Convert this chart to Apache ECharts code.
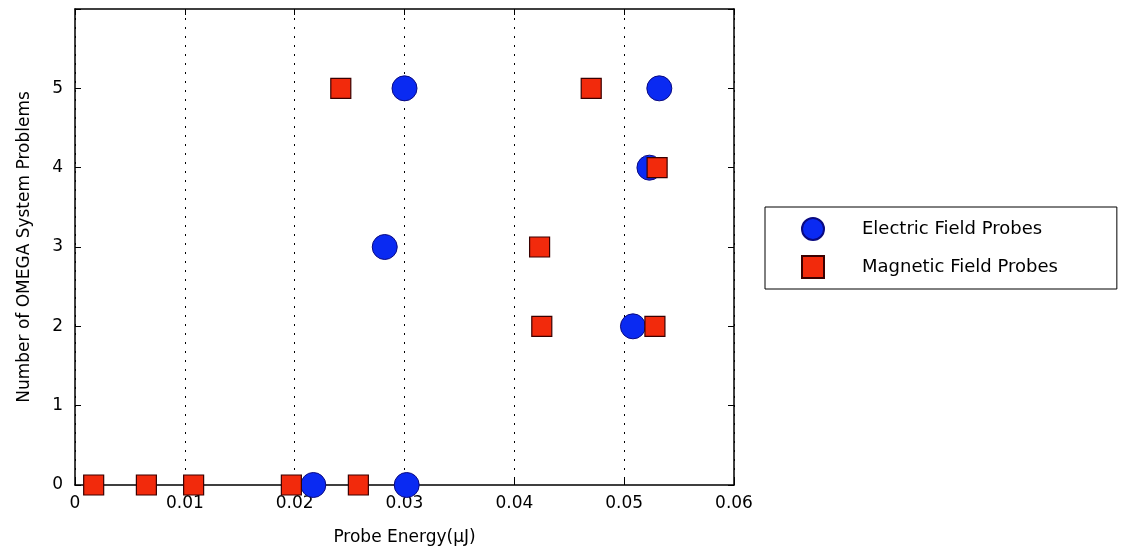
<!DOCTYPE html>
<html>
<head>
<meta charset="utf-8">
<script src="https://cdn.jsdelivr.net/npm/echarts@6/dist/echarts.min.js"></script>
<style>
html,body{margin:0;padding:0;background:#fff;}
#main{width:1122px;height:552px;}
</style>
</head>
<body>
<div id="main"></div>
<script>
var xTickLabels = ['0', '0.01', '0.02', '0.03', '0.04', '0.05', '0.06'];
var yTickLabels = ['0', '1', '2', '3', '4', '5', ''];

// Electric field probes: [energy uJ, problems]
var electricX = [0.0217, 0.0302, 0.0282, 0.0300, 0.0532, 0.0523, 0.0508];
var electricY = [0, 0, 3, 5, 5, 4, 2];

// Magnetic field probes
var magneticX = [0.0017, 0.0065, 0.0108, 0.0197, 0.0258, 0.0242, 0.0470, 0.0530, 0.0423, 0.0425, 0.0528];
var magneticY = [0, 0, 0, 0, 0, 5, 5, 4, 3, 2, 2];

function pairs(xs, ys){
  var out = [];
  for(var i=0;i<xs.length;i++){ out.push([xs[i], ys[i]]); }
  return out;
}

var font = 'DejaVu Sans';
var myChart = echarts.init(document.getElementById('main'));
var option = {
  animation: false,
  backgroundColor: '#fff',
  grid: { left: 75, right: 388, top: 9, bottom: 67 },
  legend: {
    left: 765,
    top: 207,
    orient: 'vertical',
    borderColor: '#000',
    borderWidth: 1,
    padding: [10, 59, 10, 36],
    itemWidth: 22,
    itemHeight: 22,
    itemGap: 14,
    textStyle: { fontFamily: font, fontSize: 18, color: '#000', padding: [0, 0, 0, 33] },
    data: [
      { name: 'Electric Field Probes', icon: 'circle' },
      { name: 'Magnetic Field Probes', icon: 'rect' }
    ]
  },
  xAxis: [{
    type: 'value',
    min: 0, max: 0.06, interval: 0.01,
    name: 'Probe Energy(\u03bcJ)',
    nameLocation: 'middle',
    nameGap: 44,
    nameTextStyle: { fontFamily: font, fontSize: 17, color: '#000' },
    axisLine: { lineStyle: { color: '#000', width: 1.5 } },
    axisTick: { inside: true, length: 6, lineStyle: { color: '#000' } },
    axisLabel: {
      fontFamily: font, fontSize: 17, color: '#000', margin: 10,
      formatter: function(v){ return xTickLabels[Math.round(v / 0.01)]; }
    },
    splitLine: { show: true, lineStyle: { color: '#000', type: [2, 7], width: 1 } }
  }, {
    type: 'value', position: 'top',
    min: 0, max: 0.06, interval: 0.01,
    axisLine: { show: true, onZero: false, lineStyle: { color: '#000', width: 1.5 } },
    axisTick: { inside: true, length: 6, lineStyle: { color: '#000' } },
    axisLabel: { show: false },
    splitLine: { show: false }
  }],
  yAxis: [{
    type: 'value',
    min: 0, max: 6, interval: 1,
    name: 'Number of OMEGA System Problems',
    nameLocation: 'middle',
    nameGap: 42,
    nameTextStyle: { fontFamily: font, fontSize: 17, color: '#000' },
    axisLine: { show: true, lineStyle: { color: '#000', width: 1.5 } },
    axisTick: { show: true, inside: true, length: 6, lineStyle: { color: '#000' } },
    axisLabel: {
      fontFamily: font, fontSize: 17, color: '#000', margin: 12,
      formatter: function(v){ return yTickLabels[Math.round(v)]; }
    },
    splitLine: { show: false }
  }, {
    type: 'value', position: 'right',
    min: 0, max: 6, interval: 1,
    axisLine: { show: true, onZero: false, lineStyle: { color: '#000', width: 1.5 } },
    axisTick: { show: true, inside: true, length: 6, lineStyle: { color: '#000' } },
    axisLabel: { show: false },
    splitLine: { show: false }
  }],
  series: [{
    name: 'Electric Field Probes',
    type: 'scatter',
    symbol: 'circle',
    symbolSize: 25,
    itemStyle: { color: '#0a2af2', borderColor: '#0a0a80', borderWidth: 1, opacity: 1 },
    data: pairs(electricX, electricY),
    z: 3
  }, {
    name: 'Magnetic Field Probes',
    type: 'scatter',
    symbol: 'rect',
    symbolSize: 20,
    itemStyle: { color: '#f22a0c', borderColor: '#3a0000', borderWidth: 1.2, opacity: 1 },
    data: pairs(magneticX, magneticY),
    z: 4
  }]
};
myChart.setOption(option);
</script>
</body>
</html>
